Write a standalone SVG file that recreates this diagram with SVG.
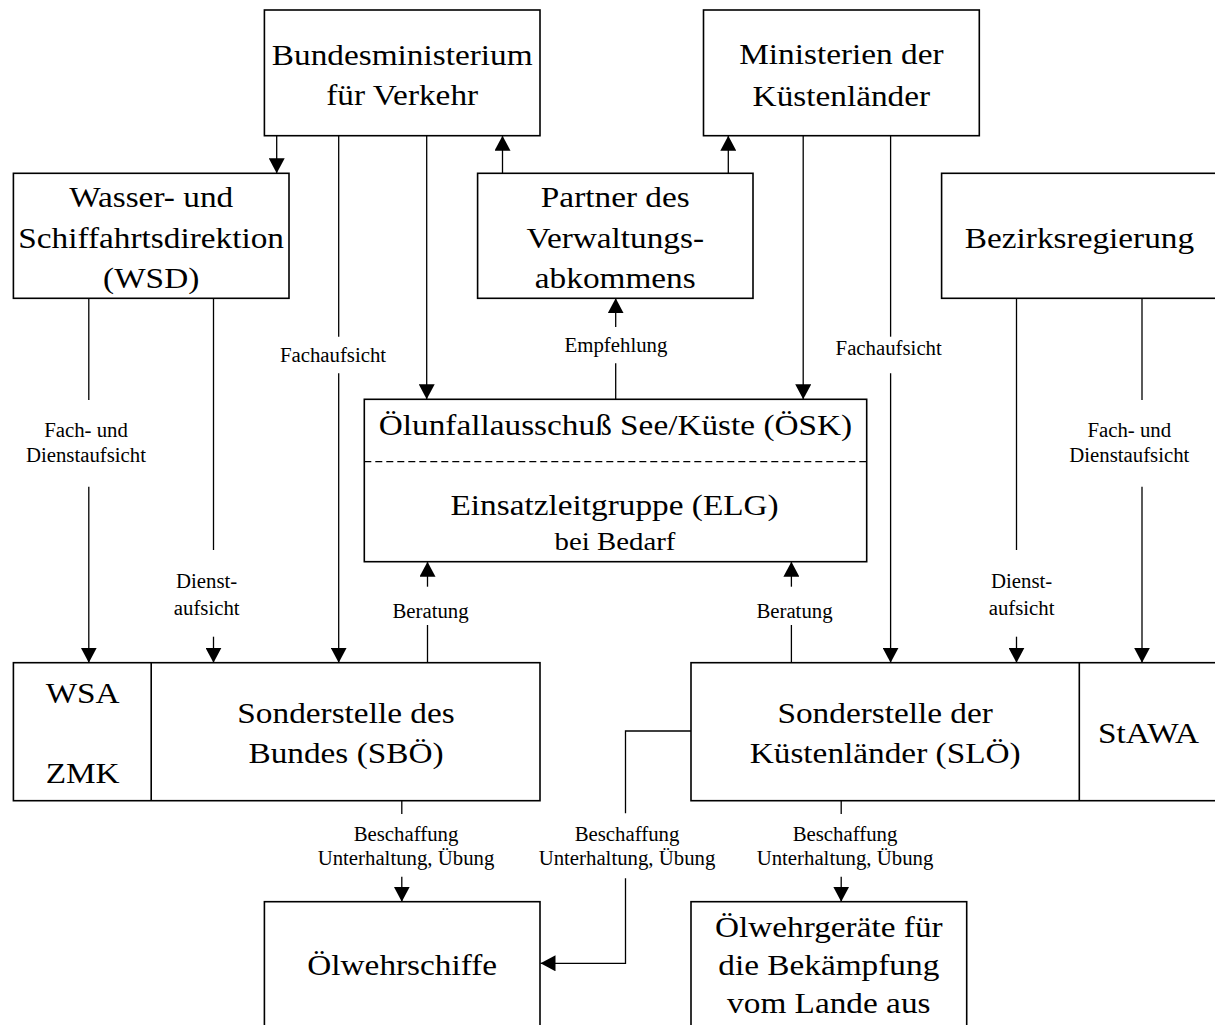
<svg xmlns="http://www.w3.org/2000/svg" width="1215" height="1025" viewBox="0 0 1215 1025">
<style>
  rect.box { fill: #fff; stroke: #000; stroke-width: 1.6; }
  line.div { stroke: #000; stroke-width: 1.6; }
  .conn path, .conn line { fill: none; stroke: #000; stroke-width: 1.3; }
  text { font-family: "Liberation Serif", "Times New Roman", serif; fill: #000; text-anchor: middle; transform-box: fill-box; transform-origin: 50% 50%; }
  text.L { font-size: 30px; transform: scaleX(1.11); }
  text.M { font-size: 26px; transform: scaleX(1.11); }
  text.S { font-size: 20px; transform: scaleX(1.04); }
</style>
<defs>
  <marker id="ah" markerUnits="userSpaceOnUse" markerWidth="16" markerHeight="16" refX="15" refY="8" orient="auto" viewBox="0 0 16 16">
    <path d="M0,0 L15,8 L0,16 z" fill="#000"/>
  </marker>
</defs>

<g id="connectors" class="conn">
  <line x1="276.7" y1="135.7" x2="276.7" y2="173.3" marker-end="url(#ah)"/>
  <line x1="338.7" y1="135.7" x2="338.7" y2="336.7"/>
  <line x1="338.7" y1="373.3" x2="338.7" y2="662.7" marker-end="url(#ah)"/>
  <line x1="426.7" y1="135.7" x2="426.7" y2="399.3" marker-end="url(#ah)"/>
  <line x1="502.5" y1="173.3" x2="502.5" y2="135.7" marker-end="url(#ah)"/>
  <line x1="728.3" y1="173.3" x2="728.3" y2="135.7" marker-end="url(#ah)"/>
  <line x1="803.2" y1="135.7" x2="803.2" y2="399.3" marker-end="url(#ah)"/>
  <line x1="890.6" y1="135.7" x2="890.6" y2="336.7"/>
  <line x1="890.6" y1="373.3" x2="890.6" y2="662.7" marker-end="url(#ah)"/>
  <line x1="88.8" y1="298.3" x2="88.8" y2="400"/>
  <line x1="88.8" y1="486.7" x2="88.8" y2="662.7" marker-end="url(#ah)"/>
  <line x1="213.5" y1="298.3" x2="213.5" y2="550"/>
  <line x1="213.5" y1="636.7" x2="213.5" y2="662.7" marker-end="url(#ah)"/>
  <line x1="615.7" y1="399.3" x2="615.7" y2="363.3"/>
  <line x1="615.7" y1="327" x2="615.7" y2="298.3" marker-end="url(#ah)"/>
  <line x1="427.5" y1="662.7" x2="427.5" y2="625"/>
  <line x1="427.5" y1="586.7" x2="427.5" y2="561.7" marker-end="url(#ah)"/>
  <line x1="791.4" y1="662.7" x2="791.4" y2="625"/>
  <line x1="791.4" y1="586.7" x2="791.4" y2="561.7" marker-end="url(#ah)"/>
  <line x1="1016.5" y1="298.3" x2="1016.5" y2="550"/>
  <line x1="1016.5" y1="636.7" x2="1016.5" y2="662.7" marker-end="url(#ah)"/>
  <line x1="1142" y1="298.3" x2="1142" y2="400"/>
  <line x1="1142" y1="486.7" x2="1142" y2="662.7" marker-end="url(#ah)"/>
  <line x1="401.8" y1="800.7" x2="401.8" y2="814"/>
  <line x1="401.8" y1="876.7" x2="401.8" y2="901.7" marker-end="url(#ah)"/>
  <path d="M691,731 H625.5 V813.3"/>
  <path d="M625.5,878.3 V963.3 H540.5" marker-end="url(#ah)"/>
  <line x1="841.2" y1="800.7" x2="841.2" y2="814"/>
  <line x1="841.2" y1="876.7" x2="841.2" y2="901.7" marker-end="url(#ah)"/>

  <text class="S" x="333" y="361.7">Fachaufsicht</text>
  <text class="S" x="888.7" y="355">Fachaufsicht</text>
  <text class="S" x="86" y="436.7">Fach- und</text>
  <text class="S" x="86" y="461.7">Dienstaufsicht</text>
  <text class="S" x="206.7" y="588.3">Dienst-</text>
  <text class="S" x="206.7" y="615">aufsicht</text>
  <text class="S" x="616" y="351.7">Empfehlung</text>
  <text class="S" x="430.5" y="618.3">Beratung</text>
  <text class="S" x="794.5" y="618.3">Beratung</text>
  <text class="S" x="1021.6" y="588.3">Dienst-</text>
  <text class="S" x="1021.6" y="615">aufsicht</text>
  <text class="S" x="1129.3" y="436.7">Fach- und</text>
  <text class="S" x="1129.3" y="461.7">Dienstaufsicht</text>
  <text class="S" x="406" y="840.7">Beschaffung</text>
  <text class="S" x="406" y="865">Unterhaltung, Übung</text>
  <text class="S" x="627" y="840.7">Beschaffung</text>
  <text class="S" x="627" y="865">Unterhaltung, Übung</text>
  <text class="S" x="845" y="840.7">Beschaffung</text>
  <text class="S" x="845" y="865">Unterhaltung, Übung</text>
</g>

<g id="bmv">
  <rect class="box" x="264.4" y="10" width="275.6" height="125.7"/>
  <text class="L" x="402.2" y="65">Bundesministerium</text>
  <text class="L" x="402.2" y="105">für Verkehr</text>
</g>
<g id="ministerien">
  <rect class="box" x="703.5" y="10" width="275.8" height="125.7"/>
  <text class="L" x="841.4" y="64">Ministerien der</text>
  <text class="L" x="841.4" y="106">Küstenländer</text>
</g>
<g id="wsd">
  <rect class="box" x="13.4" y="173.3" width="275.6" height="125"/>
  <text class="L" x="151.2" y="207">Wasser- und</text>
  <text class="L" x="151.2" y="248">Schiffahrtsdirektion</text>
  <text class="L" x="151.2" y="288">(WSD)</text>
</g>
<g id="partner">
  <rect class="box" x="477.6" y="173.3" width="275.4" height="125"/>
  <text class="L" x="615.3" y="207">Partner des</text>
  <text class="L" x="615.3" y="248">Verwaltungs-</text>
  <text class="L" x="615.3" y="288">abkommens</text>
</g>
<g id="bezirk">
  <rect class="box" x="941.6" y="173.3" width="280" height="125"/>
  <text class="L" x="1079.5" y="248.3">Bezirksregierung</text>
</g>
<g id="oesk">
  <rect class="box" x="364.3" y="399.3" width="502.4" height="162.4"/>
  <line x1="364.3" y1="461.7" x2="866.7" y2="461.7" stroke="#000" stroke-width="1.3" stroke-dasharray="7,4"/>
  <text class="L" x="615.5" y="435">Ölunfallausschuß See/Küste (ÖSK)</text>
  <text class="L" x="614.6" y="515">Einsatzleitgruppe (ELG)</text>
  <text class="M" x="615" y="550">bei Bedarf</text>
</g>
<g id="sboe">
  <rect class="box" x="13.4" y="662.7" width="526.6" height="138"/>
  <line class="div" x1="151.2" y1="662.7" x2="151.2" y2="800.7"/>
  <text class="L" x="82.7" y="703.3">WSA</text>
  <text class="L" x="82.7" y="783.3">ZMK</text>
  <text class="L" x="346" y="723.3">Sonderstelle des</text>
  <text class="L" x="346" y="763.3">Bundes (SBÖ)</text>
</g>
<g id="sloe">
  <rect class="box" x="691" y="662.7" width="530" height="138"/>
  <line class="div" x1="1079.3" y1="662.7" x2="1079.3" y2="800.7"/>
  <text class="L" x="885.2" y="723.3">Sonderstelle der</text>
  <text class="L" x="885.2" y="763.3">Küstenländer (SLÖ)</text>
  <text class="L" x="1148.5" y="743.3">StAWA</text>
</g>
<g id="schiffe">
  <rect class="box" x="264.4" y="901.7" width="275.6" height="140"/>
  <text class="L" x="402.2" y="975">Ölwehrschiffe</text>
</g>
<g id="geraete">
  <rect class="box" x="691" y="901.7" width="275.7" height="140"/>
  <text class="L" x="828.8" y="936.7">Ölwehrgeräte für</text>
  <text class="L" x="828.8" y="975">die Bekämpfung</text>
  <text class="L" x="828.8" y="1013.3">vom Lande aus</text>
</g>
</svg>
